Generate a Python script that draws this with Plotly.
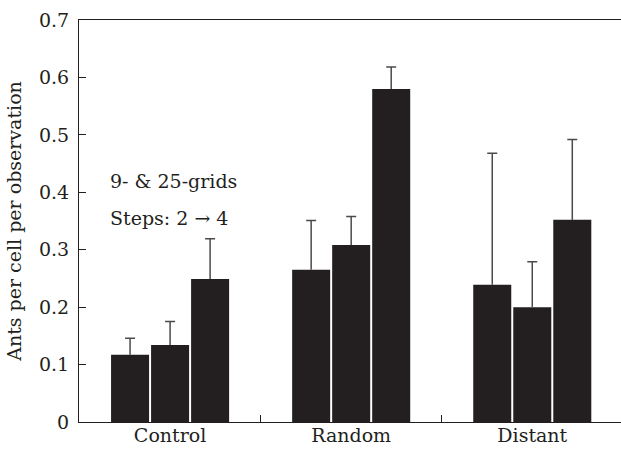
import plotly.graph_objects as go

categories = ["Control", "Random", "Distant"]
series_names = ["Step 2", "Step 3", "Step 4"]
means = [
    [0.117, 0.265, 0.239],
    [0.134, 0.308, 0.200],
    [0.249, 0.580, 0.352],
]
errors_plus = [
    [0.029, 0.086, 0.229],
    [0.041, 0.050, 0.079],
    [0.070, 0.038, 0.140],
]
y_ticks = [0, 0.1, 0.2, 0.3, 0.4, 0.5, 0.6, 0.7]
y_ticktext = ["0", "0.1", "0.2", "0.3", "0.4", "0.5", "0.6", "0.7"]
notes = ["9- & 25-grids", "Steps: 2 \u2192 4"]
note_y = [0.419, 0.355]

FONT = "DejaVu Serif"
INK = "#231f20"
ERR = "#4a4a4a"
xpos = list(range(len(categories)))

fig = go.Figure()
for i, (name, m, e) in enumerate(zip(series_names, means, errors_plus)):
    # stems: error bars without caps
    fig.add_trace(go.Bar(
        x=xpos, y=m, name=name, offsetgroup=str(i),
        marker=dict(color=INK, line=dict(width=0)),
        error_y=dict(type="data", symmetric=False, array=e,
                     arrayminus=[0] * len(e), color=ERR,
                     thickness=1.5, width=0),
        showlegend=False,
    ))
    # caps: invisible bars reaching the error top, zero-length error bar
    tops = [a + b for a, b in zip(m, e)]
    fig.add_trace(go.Bar(
        x=xpos, y=tops, offsetgroup=str(i),
        marker=dict(color="rgba(0,0,0,0)", line=dict(width=0)),
        error_y=dict(type="data", symmetric=False, array=[0] * len(e),
                     arrayminus=[0] * len(e), color=ERR,
                     thickness=1.5, width=5),
        showlegend=False, hoverinfo="skip",
    ))

# invisible trace to carry category labels on an overlaid axis
fig.add_trace(go.Scatter(x=xpos, y=[0] * len(xpos), xaxis="x2",
                         mode="markers", marker=dict(opacity=0),
                         showlegend=False, hoverinfo="skip"))

xr = [-0.503, 2.49]
fig.update_layout(
    width=621, height=449,
    margin=dict(l=79, r=0, t=20, b=27),
    paper_bgcolor="white", plot_bgcolor="white",
    barmode="group", bargap=0.337, bargroupgap=0.05,
    font=dict(family=FONT, size=19, color=INK),
    xaxis=dict(range=xr, tickvals=[0.5, 1.5], ticktext=["", ""],
               ticks="inside", ticklen=7, tickcolor=INK, tickwidth=1,
               showline=True, linecolor=INK, linewidth=1.2, mirror=True,
               showgrid=False, zeroline=False),
    xaxis2=dict(range=xr, overlaying="x", side="bottom", anchor="y",
                tickvals=xpos, ticktext=categories, ticks="",
                showline=False, showgrid=False, zeroline=False,
                tickfont=dict(family=FONT, size=19, color=INK)),
    yaxis=dict(range=[0, 0.7], tickvals=y_ticks, ticktext=y_ticktext,
               ticks="inside", ticklen=7, tickcolor=INK, tickwidth=1,
               showline=True, linecolor=INK, linewidth=1.2,
               showgrid=False, zeroline=False, ticklabelstandoff=5,
               title=dict(text="Ants per cell per observation",
                          font=dict(family=FONT, size=19, color=INK),
                          standoff=12)),
)

for t, yv in zip(notes, note_y):
    fig.add_annotation(x=-0.343, y=yv, xref="x", yref="y", text=t,
                       showarrow=False, xanchor="left", yanchor="middle",
                       font=dict(family=FONT, size=19, color=INK))

fig.write_html("out.html")
